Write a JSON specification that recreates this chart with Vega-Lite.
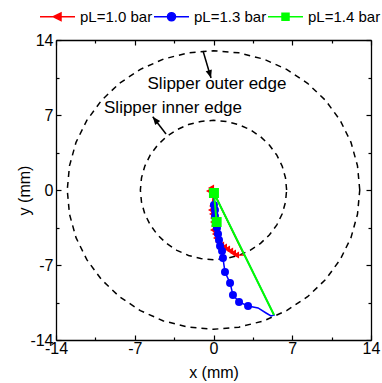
{
  "$schema": "https://vega.github.io/schema/vega-lite/v6.json",
  "width": 315,
  "height": 300,
  "autosize": {"type": "none"},
  "padding": {"left": 56, "top": 40, "right": 11, "bottom": 43},
  "background": "white",
  "config": {
    "font": "Liberation Sans",
    "view": {"stroke": null},
    "legend": {"direction": "horizontal", "columns": 3, "title": null,
      "symbolSize": 1225, "symbolStrokeWidth": 1.5, "symbolOpacity": 1, "labelFontSize": 15, "labelFont": "Liberation Sans",
      "labelColor": "black", "labelOffset": 4, "columnPadding": -8, "padding": 0},
    "axis": {
      "grid": false,
      "domainColor": "black",
      "domainWidth": 1.3,
      "tickColor": "black",
      "tickWidth": 1.2,
      "labelColor": "black",
      "titleColor": "black",
      "labelFont": "Liberation Sans",
      "titleFont": "Liberation Sans",
      "labelFontSize": 16,
      "titleFontSize": 16,
      "titleFontWeight": "normal",
      "labelFlush": false,
      "labelOverlap": false
    }
  },
  "datasets": {
    "circles": [
      {"ring": "outer", "a": 0, "x": 13, "y": 0},
      {"ring": "outer", "a": 10, "x": 12.8, "y": 2.26},
      {"ring": "outer", "a": 20, "x": 12.22, "y": 4.45},
      {"ring": "outer", "a": 30, "x": 11.26, "y": 6.5},
      {"ring": "outer", "a": 40, "x": 9.96, "y": 8.36},
      {"ring": "outer", "a": 50, "x": 8.36, "y": 9.96},
      {"ring": "outer", "a": 60, "x": 6.5, "y": 11.26},
      {"ring": "outer", "a": 70, "x": 4.45, "y": 12.22},
      {"ring": "outer", "a": 80, "x": 2.26, "y": 12.8},
      {"ring": "outer", "a": 90, "x": 0, "y": 13},
      {"ring": "outer", "a": 100, "x": -2.26, "y": 12.8},
      {"ring": "outer", "a": 110, "x": -4.45, "y": 12.22},
      {"ring": "outer", "a": 120, "x": -6.5, "y": 11.26},
      {"ring": "outer", "a": 130, "x": -8.36, "y": 9.96},
      {"ring": "outer", "a": 140, "x": -9.96, "y": 8.36},
      {"ring": "outer", "a": 150, "x": -11.26, "y": 6.5},
      {"ring": "outer", "a": 160, "x": -12.22, "y": 4.45},
      {"ring": "outer", "a": 170, "x": -12.8, "y": 2.26},
      {"ring": "outer", "a": 180, "x": -13, "y": 0},
      {"ring": "outer", "a": 190, "x": -12.8, "y": -2.26},
      {"ring": "outer", "a": 200, "x": -12.22, "y": -4.45},
      {"ring": "outer", "a": 210, "x": -11.26, "y": -6.5},
      {"ring": "outer", "a": 220, "x": -9.96, "y": -8.36},
      {"ring": "outer", "a": 230, "x": -8.36, "y": -9.96},
      {"ring": "outer", "a": 240, "x": -6.5, "y": -11.26},
      {"ring": "outer", "a": 250, "x": -4.45, "y": -12.22},
      {"ring": "outer", "a": 260, "x": -2.26, "y": -12.8},
      {"ring": "outer", "a": 270, "x": 0, "y": -13},
      {"ring": "outer", "a": 280, "x": 2.26, "y": -12.8},
      {"ring": "outer", "a": 290, "x": 4.45, "y": -12.22},
      {"ring": "outer", "a": 300, "x": 6.5, "y": -11.26},
      {"ring": "outer", "a": 310, "x": 8.36, "y": -9.96},
      {"ring": "outer", "a": 320, "x": 9.96, "y": -8.36},
      {"ring": "outer", "a": 330, "x": 11.26, "y": -6.5},
      {"ring": "outer", "a": 340, "x": 12.22, "y": -4.45},
      {"ring": "outer", "a": 350, "x": 12.8, "y": -2.26},
      {"ring": "outer", "a": 360, "x": 13, "y": 0},
      {"ring": "inner", "a": 0, "x": 6.5, "y": 0},
      {"ring": "inner", "a": 10, "x": 6.4, "y": 1.13},
      {"ring": "inner", "a": 20, "x": 6.11, "y": 2.22},
      {"ring": "inner", "a": 30, "x": 5.63, "y": 3.25},
      {"ring": "inner", "a": 40, "x": 4.98, "y": 4.18},
      {"ring": "inner", "a": 50, "x": 4.18, "y": 4.98},
      {"ring": "inner", "a": 60, "x": 3.25, "y": 5.63},
      {"ring": "inner", "a": 70, "x": 2.22, "y": 6.11},
      {"ring": "inner", "a": 80, "x": 1.13, "y": 6.4},
      {"ring": "inner", "a": 90, "x": 0, "y": 6.5},
      {"ring": "inner", "a": 100, "x": -1.13, "y": 6.4},
      {"ring": "inner", "a": 110, "x": -2.22, "y": 6.11},
      {"ring": "inner", "a": 120, "x": -3.25, "y": 5.63},
      {"ring": "inner", "a": 130, "x": -4.18, "y": 4.98},
      {"ring": "inner", "a": 140, "x": -4.98, "y": 4.18},
      {"ring": "inner", "a": 150, "x": -5.63, "y": 3.25},
      {"ring": "inner", "a": 160, "x": -6.11, "y": 2.22},
      {"ring": "inner", "a": 170, "x": -6.4, "y": 1.13},
      {"ring": "inner", "a": 180, "x": -6.5, "y": 0},
      {"ring": "inner", "a": 190, "x": -6.4, "y": -1.13},
      {"ring": "inner", "a": 200, "x": -6.11, "y": -2.22},
      {"ring": "inner", "a": 210, "x": -5.63, "y": -3.25},
      {"ring": "inner", "a": 220, "x": -4.98, "y": -4.18},
      {"ring": "inner", "a": 230, "x": -4.18, "y": -4.98},
      {"ring": "inner", "a": 240, "x": -3.25, "y": -5.63},
      {"ring": "inner", "a": 250, "x": -2.22, "y": -6.11},
      {"ring": "inner", "a": 260, "x": -1.13, "y": -6.4},
      {"ring": "inner", "a": 270, "x": 0, "y": -6.5},
      {"ring": "inner", "a": 280, "x": 1.13, "y": -6.4},
      {"ring": "inner", "a": 290, "x": 2.22, "y": -6.11},
      {"ring": "inner", "a": 300, "x": 3.25, "y": -5.63},
      {"ring": "inner", "a": 310, "x": 4.18, "y": -4.98},
      {"ring": "inner", "a": 320, "x": 4.98, "y": -4.18},
      {"ring": "inner", "a": 330, "x": 5.63, "y": -3.25},
      {"ring": "inner", "a": 340, "x": 6.11, "y": -2.22},
      {"ring": "inner", "a": 350, "x": 6.4, "y": -1.13},
      {"ring": "inner", "a": 360, "x": 6.5, "y": 0}
    ],
    "arrows": [
      {"name": "outer", "x": -0.93, "y": 12.97, "x2": -0.22, "y2": 10.45},
      {"name": "inner", "x": -4.22, "y": 5.23, "x2": -5.4, "y2": 6.84}
    ],
    "notes": [
      {"text": "Slipper outer edge", "x": 0.31, "y": 9.89},
      {"text": "Slipper inner edge", "x": -3.6, "y": 7.65}
    ],
    "paths": [
      {"series": "pL=1.0 bar", "i": 0, "x": -0.04, "y": -0.28},
      {"series": "pL=1.0 bar", "i": 1, "x": -0.4, "y": -0.09},
      {"series": "pL=1.0 bar", "i": 2, "x": -0.22, "y": 0.19},
      {"series": "pL=1.0 bar", "i": 3, "x": -0.04, "y": -0.56},
      {"series": "pL=1.0 bar", "i": 4, "x": -0.13, "y": -1.49},
      {"series": "pL=1.0 bar", "i": 5, "x": -0.22, "y": -1.87},
      {"series": "pL=1.0 bar", "i": 6, "x": -0.13, "y": -2.24},
      {"series": "pL=1.0 bar", "i": 7, "x": -0.04, "y": -2.61},
      {"series": "pL=1.0 bar", "i": 8, "x": -0.04, "y": -2.99},
      {"series": "pL=1.0 bar", "i": 9, "x": 0.04, "y": -3.36},
      {"series": "pL=1.0 bar", "i": 10, "x": -0.04, "y": -3.73},
      {"series": "pL=1.0 bar", "i": 11, "x": 0.13, "y": -4.11},
      {"series": "pL=1.0 bar", "i": 12, "x": 0.22, "y": -4.48},
      {"series": "pL=1.0 bar", "i": 13, "x": 0.4, "y": -4.85},
      {"series": "pL=1.0 bar", "i": 14, "x": 0.67, "y": -5.13},
      {"series": "pL=1.0 bar", "i": 15, "x": 0.93, "y": -5.32},
      {"series": "pL=1.0 bar", "i": 16, "x": 1.2, "y": -5.51},
      {"series": "pL=1.0 bar", "i": 17, "x": 1.47, "y": -5.69},
      {"series": "pL=1.0 bar", "i": 18, "x": 1.73, "y": -5.88},
      {"series": "pL=1.0 bar", "i": 19, "x": 2.0, "y": -6.07},
      {"series": "pL=1.0 bar", "i": 20, "x": 2.71, "y": -6.07},
      {"series": "pL=1.0 bar", "i": 21, "x": 0.04, "y": -0.28},
      {"series": "pL=1.3 bar", "i": 0, "x": 0, "y": -0.19},
      {"series": "pL=1.3 bar", "i": 1, "x": 0.04, "y": -1.4},
      {"series": "pL=1.3 bar", "i": 2, "x": 0.13, "y": -1.87},
      {"series": "pL=1.3 bar", "i": 3, "x": 0.13, "y": -2.43},
      {"series": "pL=1.3 bar", "i": 4, "x": 0.22, "y": -2.99},
      {"series": "pL=1.3 bar", "i": 5, "x": 0.31, "y": -3.55},
      {"series": "pL=1.3 bar", "i": 6, "x": 0.4, "y": -4.11},
      {"series": "pL=1.3 bar", "i": 7, "x": 0.49, "y": -4.67},
      {"series": "pL=1.3 bar", "i": 8, "x": 0.58, "y": -5.23},
      {"series": "pL=1.3 bar", "i": 9, "x": 0.76, "y": -5.69},
      {"series": "pL=1.3 bar", "i": 10, "x": 0.84, "y": -6.35},
      {"series": "pL=1.3 bar", "i": 11, "x": 1.02, "y": -7.65},
      {"series": "pL=1.3 bar", "i": 12, "x": 1.47, "y": -8.68},
      {"series": "pL=1.3 bar", "i": 13, "x": 1.73, "y": -9.8},
      {"series": "pL=1.3 bar", "i": 14, "x": 2.27, "y": -10.45},
      {"series": "pL=1.3 bar", "i": 15, "x": 3.07, "y": -10.83},
      {"series": "pL=1.3 bar", "i": 16, "x": 3.96, "y": -11.01},
      {"series": "pL=1.3 bar", "i": 17, "x": 4.67, "y": -11.48},
      {"series": "pL=1.3 bar", "i": 18, "x": 5.11, "y": -11.76},
      {"series": "pL=1.3 bar", "i": 19, "x": 5.38, "y": -11.67},
      {"series": "pL=1.3 bar", "i": 20, "x": 0.04, "y": -0.28},
      {"series": "pL=1.4 bar", "i": 0, "x": 0.28, "y": -2.99},
      {"series": "pL=1.4 bar", "i": 1, "x": 0.04, "y": -0.28},
      {"series": "pL=1.4 bar", "i": 2, "x": 5.38, "y": -11.67},
      {"series": "pL=1.4 bar", "i": 3, "x": 0.04, "y": -0.28}
    ],
    "markers": [
      {"series": "pL=1.0 bar", "x": -0.04, "y": -0.28},
      {"series": "pL=1.0 bar", "x": -0.4, "y": -0.09},
      {"series": "pL=1.0 bar", "x": -0.22, "y": 0.19},
      {"series": "pL=1.0 bar", "x": -0.04, "y": -0.56},
      {"series": "pL=1.0 bar", "x": -0.13, "y": -1.49},
      {"series": "pL=1.0 bar", "x": -0.22, "y": -1.87},
      {"series": "pL=1.0 bar", "x": -0.13, "y": -2.24},
      {"series": "pL=1.0 bar", "x": -0.04, "y": -2.61},
      {"series": "pL=1.0 bar", "x": -0.04, "y": -2.99},
      {"series": "pL=1.0 bar", "x": 0.04, "y": -3.36},
      {"series": "pL=1.0 bar", "x": -0.04, "y": -3.73},
      {"series": "pL=1.0 bar", "x": 0.13, "y": -4.11},
      {"series": "pL=1.0 bar", "x": 0.22, "y": -4.48},
      {"series": "pL=1.0 bar", "x": 0.4, "y": -4.85},
      {"series": "pL=1.0 bar", "x": 0.67, "y": -5.13},
      {"series": "pL=1.0 bar", "x": 0.93, "y": -5.32},
      {"series": "pL=1.0 bar", "x": 1.2, "y": -5.51},
      {"series": "pL=1.0 bar", "x": 1.47, "y": -5.69},
      {"series": "pL=1.0 bar", "x": 1.73, "y": -5.88},
      {"series": "pL=1.0 bar", "x": 2.0, "y": -6.07},
      {"series": "pL=1.3 bar", "x": 0.04, "y": -1.4},
      {"series": "pL=1.3 bar", "x": 0.13, "y": -1.87},
      {"series": "pL=1.3 bar", "x": 0.13, "y": -2.43},
      {"series": "pL=1.3 bar", "x": 0.22, "y": -2.99},
      {"series": "pL=1.3 bar", "x": 0.31, "y": -3.55},
      {"series": "pL=1.3 bar", "x": 0.4, "y": -4.11},
      {"series": "pL=1.3 bar", "x": 0.49, "y": -4.67},
      {"series": "pL=1.3 bar", "x": 0.58, "y": -5.23},
      {"series": "pL=1.3 bar", "x": 0.76, "y": -5.69},
      {"series": "pL=1.3 bar", "x": 0.84, "y": -6.35},
      {"series": "pL=1.3 bar", "x": 1.02, "y": -7.65},
      {"series": "pL=1.3 bar", "x": 1.47, "y": -8.68},
      {"series": "pL=1.3 bar", "x": 1.73, "y": -9.8},
      {"series": "pL=1.3 bar", "x": 2.27, "y": -10.45},
      {"series": "pL=1.3 bar", "x": 3.07, "y": -10.83},
      {"series": "pL=1.4 bar", "x": 0.04, "y": -0.28},
      {"series": "pL=1.4 bar", "x": 0.28, "y": -2.99}
    ]
  },
  "layer": [
    {
      "data": {"name": "circles"},
      "mark": {"type": "line", "color": "black", "strokeWidth": 1.5, "strokeDash": [6, 5]},
      "encoding": {
        "x": {"field": "x", "type": "quantitative", "scale": {"domain": [-14, 14], "nice": false, "zero": false},
          "axis": {"orient": "bottom", "values": [-14, -10.5, -7, -3.5, 0, 3.5, 7, 10.5, 14],
            "labelExpr": "datum.value % 7 === 0 ? '' + datum.value : ''",
            "tickSize": {"condition": {"test": "datum.value % 7 === 0", "value": -5}, "value": -3},
            "labelPadding": 5, "title": "x (mm)", "titleBaseline": "alphabetic", "titleY": 37}},
        "y": {"field": "y", "type": "quantitative", "scale": {"domain": [-14, 14], "nice": false, "zero": false},
          "axis": {"orient": "left", "values": [-14, -10.5, -7, -3.5, 0, 3.5, 7, 10.5, 14],
            "labelExpr": "datum.value % 7 === 0 ? '' + datum.value : ''",
            "tickSize": {"condition": {"test": "datum.value % 7 === 0", "value": -5}, "value": -3},
            "labelPadding": 8, "title": "y (mm)", "titleBaseline": "alphabetic", "titleX": -27}},
        "detail": {"field": "ring"},
        "order": {"field": "a", "type": "quantitative"}
      }
    },
    {
      "data": {"name": "arrows"},
      "mark": {"type": "rule", "color": "black", "strokeWidth": 1.5},
      "encoding": {
        "x": {"field": "x", "type": "quantitative", "scale": {"domain": [-14, 14], "nice": false, "zero": false},
          "axis": {"orient": "top", "values": [-14, -10.5, -7, -3.5, 0, 3.5, 7, 10.5, 14], "labels": false, "title": null,
            "tickSize": {"condition": {"test": "datum.value % 7 === 0", "value": -5}, "value": -3}}},
        "y": {"field": "y", "type": "quantitative", "scale": {"domain": [-14, 14], "nice": false, "zero": false},
          "axis": {"orient": "right", "values": [-14, -10.5, -7, -3.5, 0, 3.5, 7, 10.5, 14], "labels": false, "title": null,
            "tickSize": {"condition": {"test": "datum.value % 7 === 0", "value": -5}, "value": -3}}},
        "x2": {"field": "x2"},
        "y2": {"field": "y2"}
      }
    },
    {
      "data": {"name": "arrows"},
      "transform": [{"filter": "datum.name === 'outer'"}],
      "mark": {"type": "point", "shape": "M0,0L-0.4,1L0.4,1Z", "filled": true, "color": "black", "opacity": 1, "size": 256, "angle": 163.5},
      "encoding": {
        "x": {"field": "x2", "type": "quantitative", "axis": null, "scale": {"domain": [-14, 14], "nice": false, "zero": false}},
        "y": {"field": "y2", "type": "quantitative", "axis": null, "scale": {"domain": [-14, 14], "nice": false, "zero": false}}
      }
    },
    {
      "data": {"name": "arrows"},
      "transform": [{"filter": "datum.name === 'inner'"}],
      "mark": {"type": "point", "shape": "M0,0L-0.4,1L0.4,1Z", "filled": true, "color": "black", "opacity": 1, "size": 256, "angle": 322},
      "encoding": {
        "x": {"field": "x2", "type": "quantitative", "axis": null, "scale": {"domain": [-14, 14], "nice": false, "zero": false}},
        "y": {"field": "y2", "type": "quantitative", "axis": null, "scale": {"domain": [-14, 14], "nice": false, "zero": false}}
      }
    },
    {
      "data": {"name": "notes"},
      "mark": {"type": "text", "fontSize": 17, "font": "Liberation Sans", "color": "black", "align": "center", "baseline": "middle"},
      "encoding": {
        "x": {"field": "x", "type": "quantitative", "axis": null, "scale": {"domain": [-14, 14], "nice": false, "zero": false}},
        "y": {"field": "y", "type": "quantitative", "axis": null, "scale": {"domain": [-14, 14], "nice": false, "zero": false}},
        "text": {"field": "text"}
      }
    },
    {
      "data": {"name": "paths"},
      "transform": [{"filter": "datum.series === 'pL=1.0 bar'"}],
      "mark": {"type": "line", "strokeWidth": 1.2, "color": "#ff0000"},
      "encoding": {
        "x": {"field": "x", "type": "quantitative", "axis": null, "scale": {"domain": [-14, 14], "nice": false, "zero": false}},
        "y": {"field": "y", "type": "quantitative", "axis": null, "scale": {"domain": [-14, 14], "nice": false, "zero": false}},
        "order": {"field": "i", "type": "quantitative"}
      }
    },
    {
      "data": {"name": "markers"},
      "transform": [{"filter": "datum.series === 'pL=1.0 bar'"}],
      "mark": {"type": "point", "shape": "triangle-left", "filled": true, "opacity": 1, "size": 50, "color": "#ff0000"},
      "encoding": {
        "x": {"field": "x", "type": "quantitative", "axis": null, "scale": {"domain": [-14, 14], "nice": false, "zero": false}},
        "y": {"field": "y", "type": "quantitative", "axis": null, "scale": {"domain": [-14, 14], "nice": false, "zero": false}}
      }
    },
    {
      "data": {"name": "paths"},
      "transform": [{"filter": "datum.series === 'pL=1.3 bar'"}],
      "mark": {"type": "line", "strokeWidth": 1.5, "color": "#0000ff"},
      "encoding": {
        "x": {"field": "x", "type": "quantitative", "axis": null, "scale": {"domain": [-14, 14], "nice": false, "zero": false}},
        "y": {"field": "y", "type": "quantitative", "axis": null, "scale": {"domain": [-14, 14], "nice": false, "zero": false}},
        "order": {"field": "i", "type": "quantitative"}
      }
    },
    {
      "data": {"name": "markers"},
      "transform": [{"filter": "datum.series === 'pL=1.3 bar'"}],
      "mark": {"type": "point", "shape": "circle", "filled": true, "opacity": 1, "size": 64, "color": "#0000ff"},
      "encoding": {
        "x": {"field": "x", "type": "quantitative", "axis": null, "scale": {"domain": [-14, 14], "nice": false, "zero": false}},
        "y": {"field": "y", "type": "quantitative", "axis": null, "scale": {"domain": [-14, 14], "nice": false, "zero": false}}
      }
    },
    {
      "data": {"name": "paths"},
      "transform": [{"filter": "datum.series === 'pL=1.4 bar'"}],
      "mark": {"type": "line", "strokeWidth": 2, "color": "#00ff00"},
      "encoding": {
        "x": {"field": "x", "type": "quantitative", "axis": null, "scale": {"domain": [-14, 14], "nice": false, "zero": false}},
        "y": {"field": "y", "type": "quantitative", "axis": null, "scale": {"domain": [-14, 14], "nice": false, "zero": false}},
        "order": {"field": "i", "type": "quantitative"}
      }
    },
    {
      "data": {"name": "markers"},
      "transform": [{"filter": "datum.series === 'pL=1.4 bar'"}],
      "mark": {"type": "point", "shape": "square", "filled": true, "opacity": 1, "size": 100, "color": "#00ff00"},
      "encoding": {
        "x": {"field": "x", "type": "quantitative", "axis": null, "scale": {"domain": [-14, 14], "nice": false, "zero": false}},
        "y": {"field": "y", "type": "quantitative", "axis": null, "scale": {"domain": [-14, 14], "nice": false, "zero": false}}
      }
    },
    {
      "data": {"name": "markers"},
      "mark": {"type": "point", "filled": true, "opacity": 0, "strokeWidth": 1.5},
      "encoding": {
        "x": {"field": "x", "type": "quantitative", "axis": null, "scale": {"domain": [-14, 14], "nice": false, "zero": false}},
        "y": {"field": "y", "type": "quantitative", "axis": null, "scale": {"domain": [-14, 14], "nice": false, "zero": false}},
        "color": {"field": "series", "type": "nominal",
          "scale": {"domain": ["pL=1.0 bar", "pL=1.3 bar", "pL=1.4 bar"], "range": ["#ff0000", "#0000ff", "#00ff00"]},
          "legend": {"orient": "none", "legendX": -17, "legendY": -42}},
        "stroke": {"field": "series", "type": "nominal",
          "scale": {"domain": ["pL=1.0 bar", "pL=1.3 bar", "pL=1.4 bar"], "range": ["#ff0000", "#0000ff", "#00ff00"]},
          "legend": {"orient": "none", "legendX": -17, "legendY": -42}},
        "shape": {"field": "series", "type": "nominal",
          "scale": {"domain": ["pL=1.0 bar", "pL=1.3 bar", "pL=1.4 bar"],
            "range": ["M-1,0H1M-0.24,0L0.2,-0.22L0.2,0.22Z", "M-1,0H1M0.23,0A0.23,0.23,0,1,1,-0.23,0A0.23,0.23,0,1,1,0.23,0Z", "M-1,0H1M-0.2,-0.2H0.2V0.2H-0.2Z"]},
          "legend": {"orient": "none", "legendX": -17, "legendY": -42}}
      }
    }
  ],
  "resolve": {"axis": {"x": "independent", "y": "independent"}}
}
